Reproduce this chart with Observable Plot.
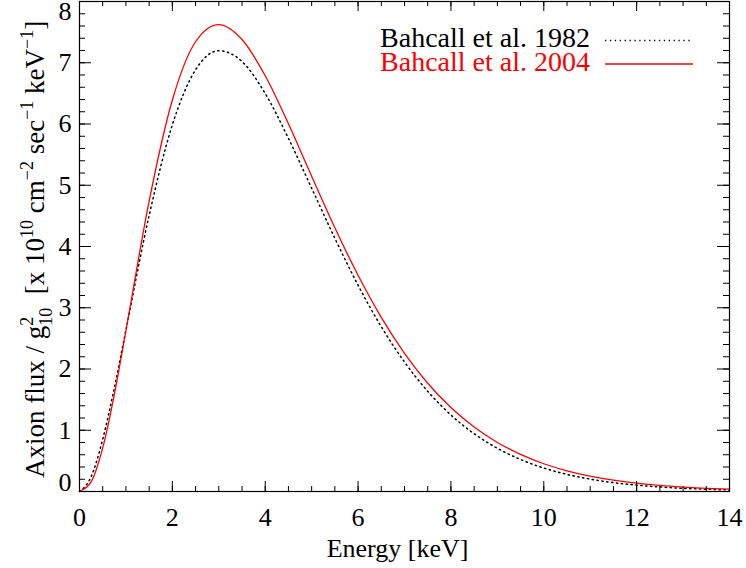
<!DOCTYPE html>
<html>
<head>
<meta charset="utf-8">
<script src="https://cdn.jsdelivr.net/npm/d3@7"></script>
<script src="https://cdn.jsdelivr.net/npm/@observablehq/plot@0.6"></script>
<style>
  html, body { margin: 0; padding: 0; background: #fff; }
  #chart svg { display: block; }
</style>
</head>
<body>
<div id="chart"></div>
<script>
// Energy grid [keV]
const energy = [0, 0.25, 0.5, 0.75, 1, 1.5, 2, 2.5, 3, 3.5, 4, 4.5, 5, 5.5, 6, 6.5, 7, 7.5, 8, 8.5, 9, 9.5, 10, 10.5, 11, 11.5, 12, 12.5, 13, 13.5, 14];
// Bahcall et al. 1982 (dotted black)
const flux1982 = [0, 0.241, 0.853, 1.692, 2.638, 4.507, 5.987, 6.885, 7.196, 7.020, 6.497, 5.766, 4.952, 4.134, 3.367, 2.691, 2.114, 1.636, 1.249, 0.943, 0.705, 0.522, 0.383, 0.279, 0.202, 0.145, 0.104, 0.074, 0.052, 0.037, 0.026];
// Bahcall et al. 2004 (solid red)
const flux2004 = [0, 0.157, 0.712, 1.583, 2.625, 4.741, 6.391, 7.343, 7.623, 7.379, 6.787, 6.003, 5.148, 4.307, 3.530, 2.843, 2.256, 1.768, 1.370, 1.052, 0.801, 0.605, 0.453, 0.338, 0.250, 0.185, 0.136, 0.099, 0.072, 0.052, 0.038];

const seriesNames = ["Bahcall et al. 1982", "Bahcall et al. 2004"];
const seriesColors = ["#000000", "#ff0000"];

const xMajorTicks = [0, 2, 4, 6, 8, 10, 12, 14];
const xMinorTicks = d3.range(0, 14.001, 0.5);
const yMajorTicks = [0, 1, 2, 3, 4, 5, 6, 7, 8];
const yMinorTicks = d3.range(0, 8.001, 0.2);

const xLabel = "Energy [keV]";

const rows1982 = energy.map((e, i) => ({e, f: flux1982[i]}));
const rows2004 = energy.map((e, i) => ({e, f: flux2004[i]}));

const W = 746, H = 568;
const mL = 79, mR = 17, mT = 1, mB = 77;
const plotW = W - mL - mR, plotH = H - mT - mB;
const FONT = "Liberation Serif";

const chart = Plot.plot({
  width: W, height: H,
  marginLeft: mL, marginRight: mR, marginTop: mT, marginBottom: mB,
  x: {domain: [0, 14]},
  y: {domain: [0, 8]},
  style: {fontFamily: FONT, background: "#fff", color: "#000"},
  marks: [
    // curves
    Plot.line(rows1982, {x: "e", y: "f", stroke: seriesColors[0], strokeWidth: 1.5, strokeDasharray: "1.3,3.6", curve: "monotone-x"}),
    Plot.line(rows2004, {x: "e", y: "f", stroke: seriesColors[1], strokeWidth: 1.3, curve: "monotone-x"}),
    // inward ticks, bottom and top
    Plot.tickX(xMinorTicks, {x: d => d, stroke: "#000", strokeWidth: 1, insetTop: plotH - 5}),
    Plot.tickX(xMinorTicks, {x: d => d, stroke: "#000", strokeWidth: 1, insetBottom: plotH - 5}),
    Plot.tickX(xMajorTicks, {x: d => d, stroke: "#000", strokeWidth: 1, insetTop: plotH - 10}),
    Plot.tickX(xMajorTicks, {x: d => d, stroke: "#000", strokeWidth: 1, insetBottom: plotH - 10}),
    // inward ticks, left and right
    Plot.tickY(yMinorTicks, {y: d => d, stroke: "#000", strokeWidth: 1, insetRight: plotW - 6}),
    Plot.tickY(yMinorTicks, {y: d => d, stroke: "#000", strokeWidth: 1, insetLeft: plotW - 6}),
    Plot.tickY(yMajorTicks, {y: d => d, stroke: "#000", strokeWidth: 1, insetRight: plotW - 12}),
    Plot.tickY(yMajorTicks, {y: d => d, stroke: "#000", strokeWidth: 1, insetLeft: plotW - 12}),
    Plot.frame({stroke: "#000", strokeWidth: 1.2}),
    // tick labels
    Plot.axisX({ticks: xMajorTicks, tickSize: 0, tickPadding: 16, fontSize: 26, label: null, tickFormat: d => String(d)}),
    Plot.axisY({ticks: yMajorTicks.filter(d => d > 0 && d < 8), tickSize: 0, tickPadding: 8, fontSize: 26, label: null, tickFormat: d => String(d)}),
    Plot.axisY({ticks: [0], tickSize: 0, tickPadding: 8, fontSize: 26, label: null, dy: -9, tickFormat: d => String(d)}),
    Plot.axisY({ticks: [8], tickSize: 0, tickPadding: 8, fontSize: 26, label: null, dy: 10, tickFormat: d => String(d)}),
    // x axis title
    Plot.text([xLabel], {frameAnchor: "bottom", dy: 57, dx: -7, fontSize: 26, lineAnchor: "middle", fill: "#000"})
  ]
});

const svg = d3.select(chart);

// y axis title with superscripts / subscripts
const yt = svg.append("text")
  .attr("transform", "translate(44,478) rotate(-90)")
  .attr("text-anchor", "start")
  .attr("font-family", FONT)
  .attr("font-size", 27)
  .attr("fill", "#000");
const SS = 18;
yt.append("tspan").text("Axion flux / g");
yt.append("tspan").attr("font-size", SS).attr("dy", -11).text("2");
yt.append("tspan").attr("font-size", SS).attr("dx", -9).attr("dy", 19).text("10");
yt.append("tspan").attr("dy", -8).text("\u00a0 [x 10");
yt.append("tspan").attr("font-size", SS).attr("dy", -11).text("10");
yt.append("tspan").attr("dy", 11).text(" cm");
yt.append("tspan").attr("font-size", SS).attr("dy", -11).text("\u22122");
yt.append("tspan").attr("dy", 11).text(" sec");
yt.append("tspan").attr("font-size", SS).attr("dy", -11).text("\u22121");
yt.append("tspan").attr("dy", 11).text(" keV");
yt.append("tspan").attr("font-size", SS).attr("dy", -11).text("\u22121");
yt.append("tspan").attr("dy", 11).text("]");

// legend
const lg = svg.append("g").attr("font-family", FONT).attr("font-size", 28);
const legendRows = [
  {name: seriesNames[0], color: seriesColors[0], dash: "1.3,3.6", w: 1.5, baseline: 47, ly: 40.5},
  {name: seriesNames[1], color: seriesColors[1], dash: null, w: 1.3, baseline: 71, ly: 64}
];
legendRows.forEach(r => {
  lg.append("text").attr("x", 590).attr("y", r.baseline).attr("text-anchor", "end").attr("fill", r.color).text(r.name);
  const ln = lg.append("line").attr("x1", 605).attr("x2", 693).attr("y1", r.ly).attr("y2", r.ly)
    .attr("stroke", r.color).attr("stroke-width", r.w);
  if (r.dash) ln.attr("stroke-dasharray", r.dash);
});

document.getElementById("chart").appendChild(chart);
</script>
</body>
</html>
